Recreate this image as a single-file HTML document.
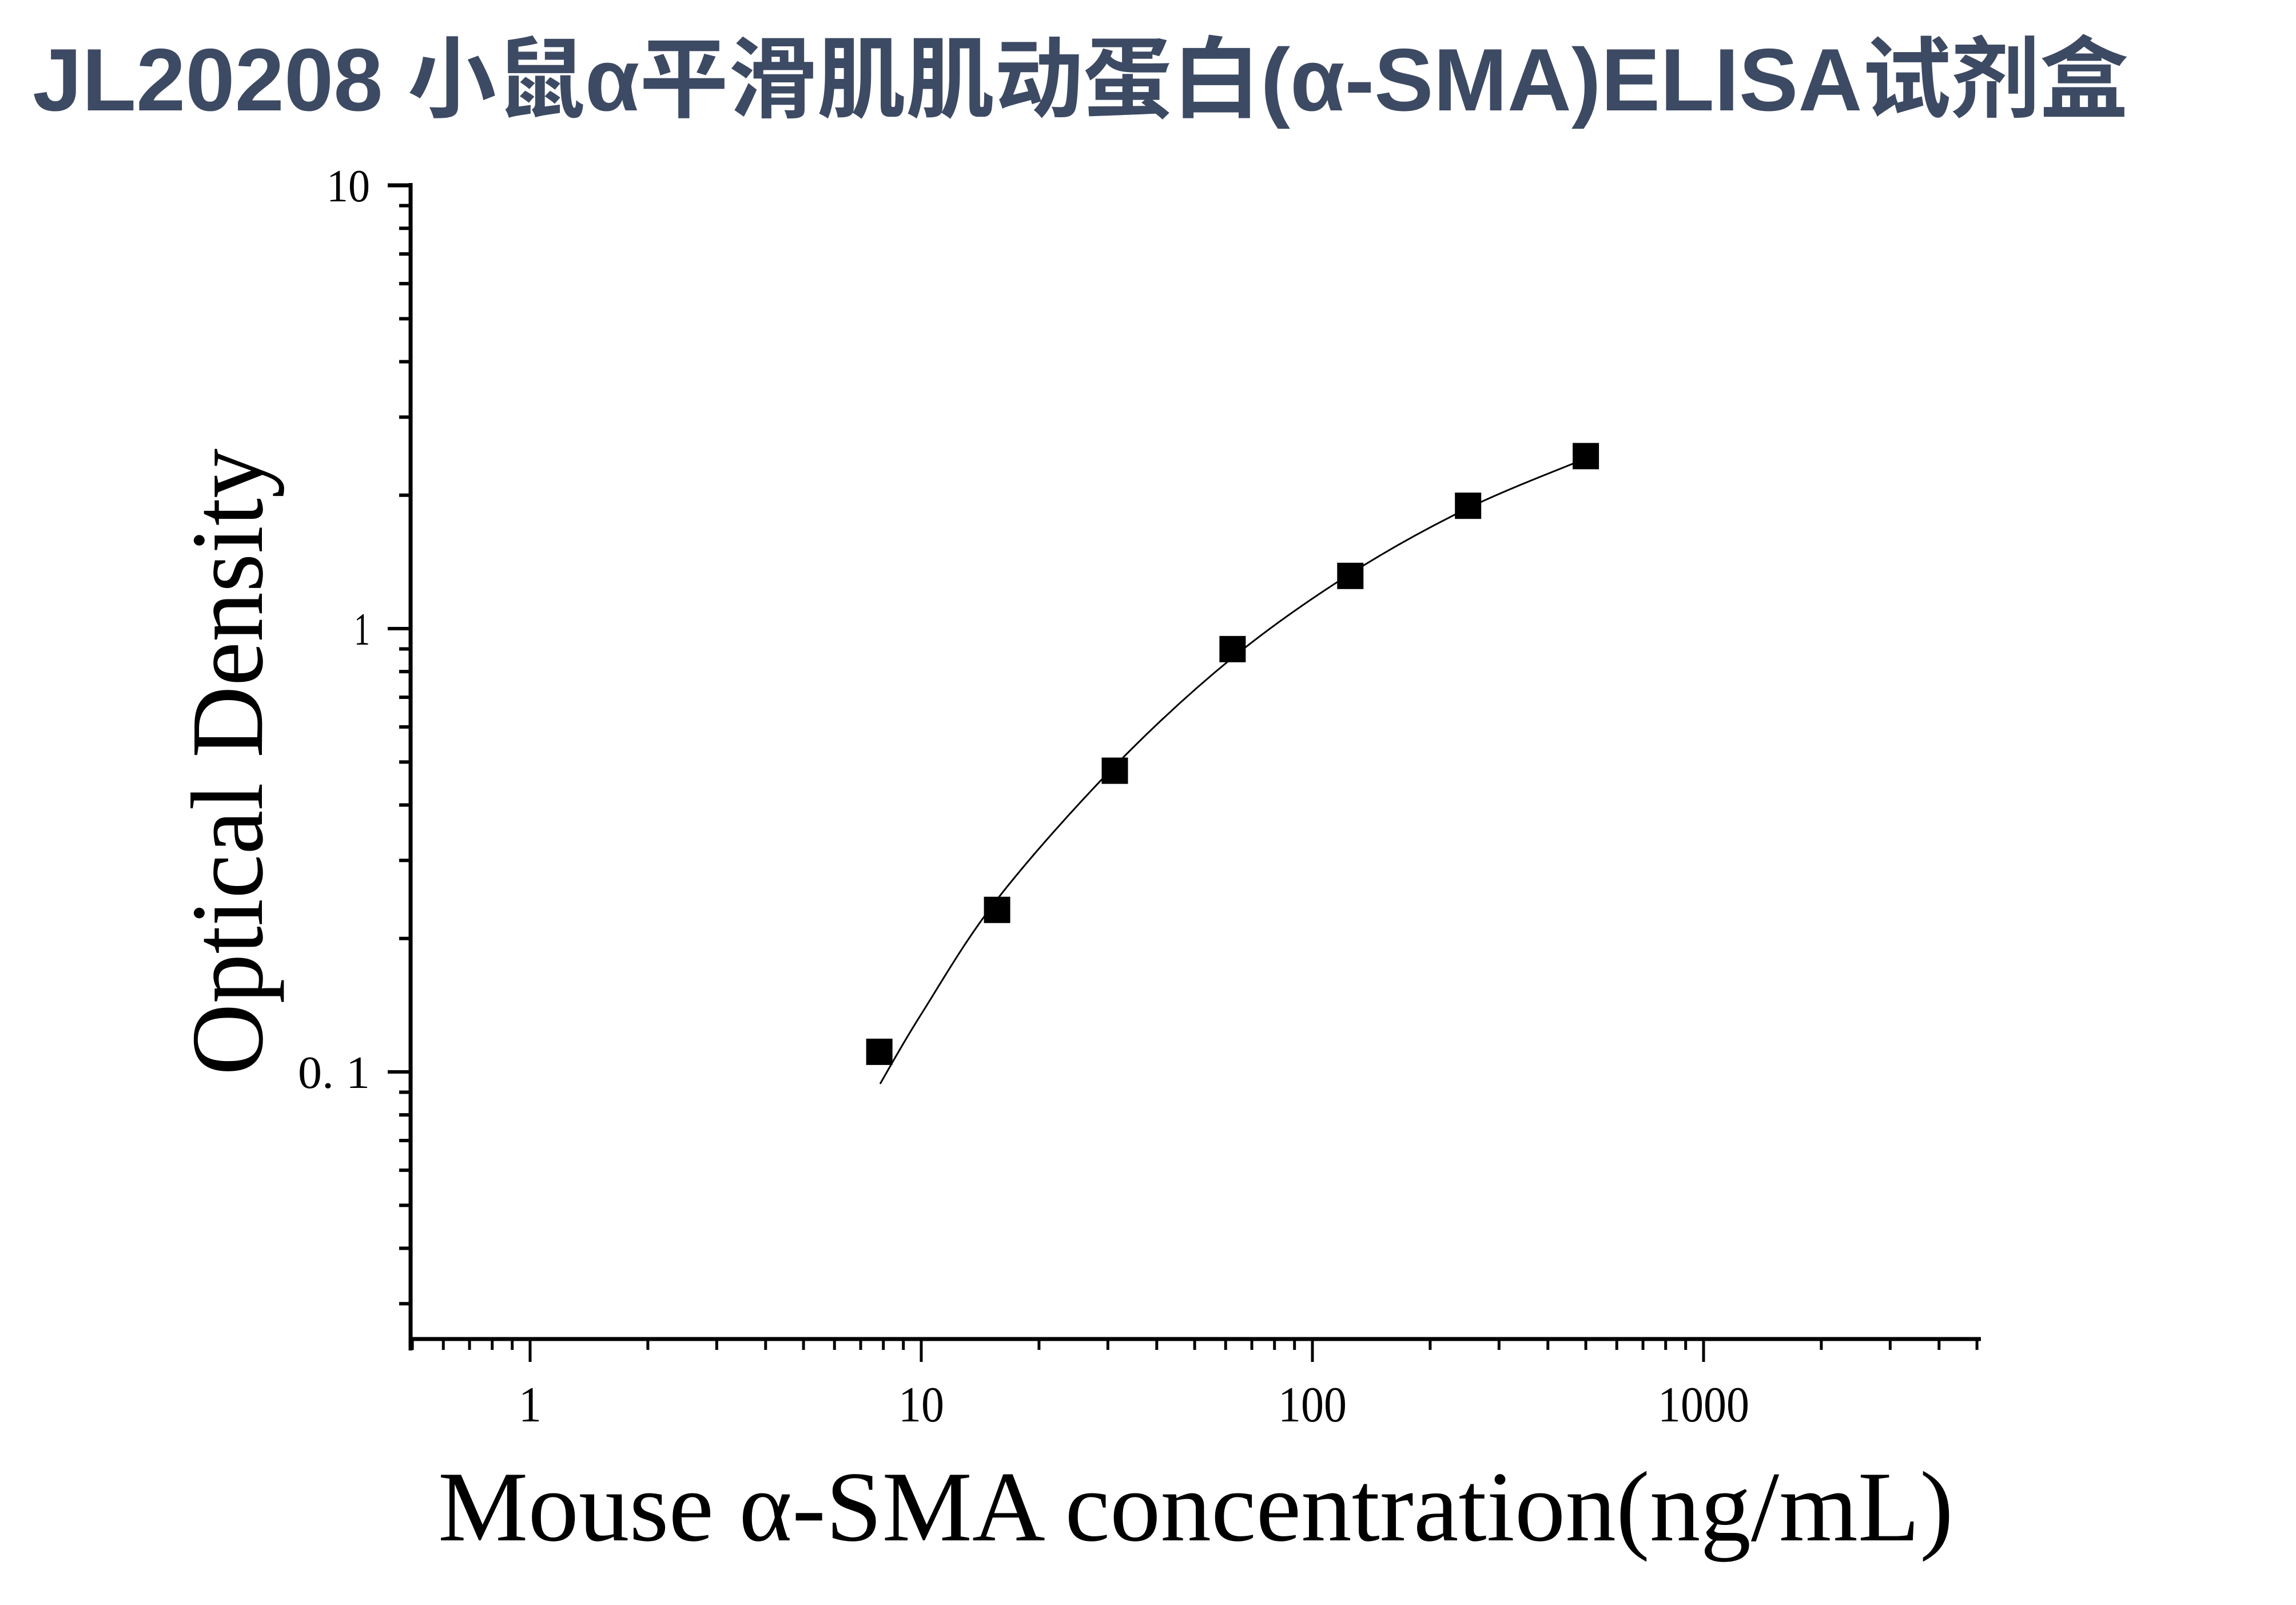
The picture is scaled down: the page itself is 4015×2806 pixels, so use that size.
<!DOCTYPE html>
<html><head><meta charset="utf-8"><style>
html,body{margin:0;padding:0;background:#fff;}
svg{display:block;}
</style></head><body>
<svg id="chart" width="4015" height="2806" viewBox="0 0 4015 2806" xmlns="http://www.w3.org/2000/svg">
<rect width="4015" height="2806" fill="#fff"/>
<text x="57" y="193" font-family="'Liberation Sans','Noto Sans CJK SC',sans-serif" font-weight="bold" font-size="155" fill="#3d4a63" textLength="3665" lengthAdjust="spacingAndGlyphs">JL20208 小鼠α平滑肌肌动蛋白(α-SMA)ELISA试剂盒</text>
<g id="axes"></g>
<g id="marks"></g>
<text transform="translate(458,1332) rotate(-90)" text-anchor="middle" font-family="'Liberation Serif',serif" font-size="180" fill="#000" textLength="1096" lengthAdjust="spacingAndGlyphs">Optical Density</text>
<text x="766" y="2693" font-family="'Liberation Serif',serif" font-size="175" fill="#000" textLength="2650" lengthAdjust="spacingAndGlyphs">Mouse α-SMA concentration(ng/mL)</text>
</svg>
<script>
const concentrations = [7.8125, 15.625, 31.25, 62.5, 125, 250, 500];
const odValues = [0.111, 0.232, 0.478, 0.899, 1.315, 1.893, 2.45];
const curveX = [7.85, 10, 15.625, 31.25, 62.5, 125, 250, 500];
const curveY = [0.094, 0.135, 0.245, 0.49, 0.86, 1.33, 1.87, 2.42];
const xTickValues = [1, 10, 100, 1000];
const xTickLabels = ["1", "10", "100", "1000"];
const yTickValues = [0.1, 1, 10];
const yTickLabels = ["0. 1", "1", "10"];

const NS = "http://www.w3.org/2000/svg";
const X0 = 927, XDEC = 684;
const Y1 = 1099, YDEC = 775;
const xs = v => X0 + Math.log10(v) * XDEC;
const ys = v => Y1 - Math.log10(v) * YDEC;
const AXL = 718, AXR = 3461, AXB = 2341, AXT = 320;

function mk(tag, attrs, parent) {
  const e = document.createElementNS(NS, tag);
  for (const k in attrs) e.setAttribute(k, attrs[k]);
  parent.appendChild(e);
  return e;
}
const axes = document.getElementById('axes');
const marks = document.getElementById('marks');

let yAxis = mk('line', {x1: AXL, y1: AXT, x2: AXL, y2: AXB + 20, stroke: '#000', 'stroke-width': 7}, axes);


let xAxis = mk('line', {x1: AXL - 3, y1: AXB, x2: AXR + 3, y2: AXB, stroke: '#000', 'stroke-width': 7}, axes);



for (let d = -1; d <= 3; d++) {
  for (let m = 1; m <= 9; m++) {
    const v = m * Math.pow(10, d);
    const px = xs(v);
    if (px < AXL - 2 || px > AXR + 2) continue;
    const major = (m === 1);
    const t = mk('line', {x1: px, y1: AXB, x2: px, y2: major ? 2381 : 2360, stroke: '#000', 'stroke-width': 5}, axes);
    
    
  }
}
xTickValues.forEach((v, i) => {
  const t = mk('text', {x: xs(v), y: 2485, 'text-anchor': 'middle', 'font-family': "'Liberation Serif',serif", 'font-size': 88, fill: '#000', textLength: 40 * xTickLabels[i].length, lengthAdjust: 'spacingAndGlyphs'}, axes);
  t.textContent = xTickLabels[i];
  
  
});

for (let d = -2; d <= 0; d++) {
  for (let m = 1; m <= 9; m++) {
    const v = m * Math.pow(10, d);
    const py = ys(v);
    if (py > AXB - 5 || py < AXT - 8) continue;
    const major = (m === 1);
    const t = mk('line', {x1: major ? 678 : 698, y1: py, x2: AXL, y2: py, stroke: '#000', 'stroke-width': 6}, axes);
    
    
  }
}
const tTop = mk('line', {x1: 678, y1: ys(10), x2: AXL, y2: ys(10), stroke: '#000', 'stroke-width': 7}, axes);


yTickValues.forEach((v, i) => {
  const lab = yTickLabels[i];
  const w = lab === "0. 1" ? 126 : (lab === "10" ? 76 : 28);
  const t = mk('text', {x: 647, y: ys(v) + 28, 'text-anchor': 'end', 'font-family': "'Liberation Serif',serif", 'font-size': 80, fill: '#000', textLength: w, lengthAdjust: 'spacingAndGlyphs'}, axes);
  t.textContent = lab;
  
  
});

const pts = curveX.map((x, i) => [xs(x), ys(curveY[i])]);
let d = 'M' + pts[0][0] + ' ' + pts[0][1];
for (let i = 0; i < pts.length - 1; i++) {
  const p0 = pts[Math.max(0, i - 1)], p1 = pts[i], p2 = pts[i + 1], p3 = pts[Math.min(pts.length - 1, i + 2)];
  const c1 = [p1[0] + (p2[0] - p0[0]) / 6, p1[1] + (p2[1] - p0[1]) / 6];
  const c2 = [p2[0] - (p3[0] - p1[0]) / 6, p2[1] - (p3[1] - p1[1]) / 6];
  d += ' C' + c1[0] + ' ' + c1[1] + ' ' + c2[0] + ' ' + c2[1] + ' ' + p2[0] + ' ' + p2[1];
}
const curve = mk('path', {d: d, fill: 'none', stroke: '#000', 'stroke-width': 3}, marks);



const S = 46;
concentrations.forEach((c, i) => {
  const r = mk('rect', {x: xs(c) - S / 2, y: ys(odValues[i]) - S / 2, width: S, height: S, fill: '#000'}, marks);
  
  
});
</script>
</body></html>
